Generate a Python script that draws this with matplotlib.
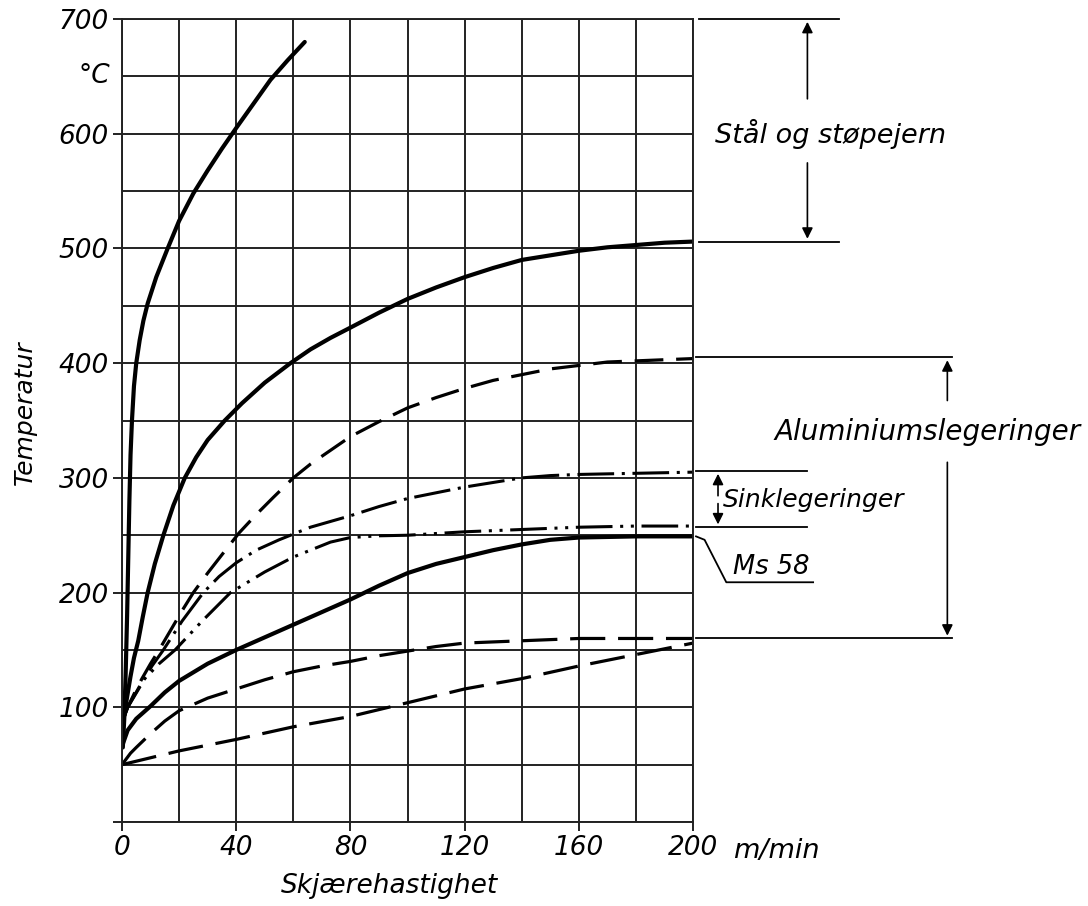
import numpy as np
import matplotlib
matplotlib.use("Agg")
import matplotlib.pyplot as plt

# cutting speed (m/min) vs. temperature (degC)
steel_x = [0.3, 0.8, 1.3, 1.8, 2.2, 2.6, 3.0, 3.5, 4.2, 5, 6.2, 7.5, 9, 12, 16, 20,
           25, 30, 35, 40, 46, 52, 58, 64]
steel_y = [65, 90, 130, 180, 230, 280, 320, 350, 380, 400, 420, 437, 452, 475, 500,
           524, 548, 568, 587, 605, 626, 647, 664, 680]

cast_x = [0.5, 1.2, 2, 3, 4.2, 5.7, 7.3, 9, 11.5, 14.5, 18, 22, 26, 30, 36, 42, 50,
          59, 66, 73, 80, 90, 100, 110, 120, 130, 140, 150, 160, 170, 180, 190, 200]
cast_y = [88, 100, 112, 127, 143, 158, 179, 200, 225, 250, 276, 300, 318, 333, 350,
          365, 383, 400, 412, 422, 431, 444, 456, 466, 475, 483, 490, 494, 498, 501,
          503, 505, 506]

alu_hi_x = [0.5, 2, 4.5, 7, 10, 13, 17, 21, 25, 30, 35, 41, 47, 53, 60, 66, 73, 80,
            90, 100, 110, 120, 130, 140, 150, 160, 170, 180, 190, 200]
alu_hi_y = [90, 100, 113, 125, 138, 150, 167, 184, 200, 217, 233, 252, 268, 283, 300,
            312, 324, 336, 349, 361, 370, 378, 385, 390, 395, 398, 401, 402, 403, 404]

zn_hi_x = [0.5, 2, 7, 10.5, 14.5, 21, 28.5, 34, 40, 47, 55, 66, 80, 90, 100, 110,
           120, 130, 140, 150, 160, 180, 200]
zn_hi_y = [90, 100, 122, 136, 150, 175, 200, 214, 226, 237, 246, 257, 267, 275, 282,
           287, 292, 296, 300, 302, 303, 304, 305]

zn_lo_x = [0.5, 2, 8, 13, 18.6, 28, 38, 50, 60, 66, 73, 80, 90, 100, 120, 140, 160,
           180, 200]
zn_lo_y = [90, 100, 125, 138, 150, 175, 200, 218, 231, 237, 244, 248, 249.5, 250,
           253, 255, 257, 258, 258]

ms58_x = [0.3, 2, 5, 10, 15, 20, 30, 40, 50, 60, 70, 80, 90, 100, 110, 120, 130, 140,
          150, 160, 180, 200]
ms58_y = [68, 80, 90, 101, 113, 123, 138, 150, 161, 172, 183, 194, 206, 217, 225, 231,
          237, 242, 246, 248, 249, 249]

alu_lo_x = [0, 1.5, 3, 5, 7.5, 10, 15, 20, 30, 40, 50, 60, 70, 80, 90, 100, 110, 120,
            140, 160, 180, 200]
alu_lo_y = [50, 55, 60, 65, 71, 77, 88, 97, 108, 116, 124, 131, 136, 140, 145, 149,
            153, 156, 158, 160, 160, 160]

alu_min_x = [0, 20, 40, 60, 80, 100, 120, 140, 160, 180, 200]
alu_min_y = [50, 62, 72, 83, 92, 104, 116, 125, 136, 146, 156]

x_ticks = [0, 40, 80, 120, 160, 200]
y_ticks = [0, 100, 200, 300, 400, 500, 600, 700]

# material ranges shown on the right: (label, low, high)
ranges = [("Stål og støpejern", 506, 700),
          ("Aluminiumslegeringer", 160, 405),
          ("Sinklegeringer", 257, 306)]

plt.rcParams['font.family'] = ['DejaVu Sans']
fig = plt.figure(figsize=(10.88, 9.06), dpi=100)
ax = fig.add_axes([0.1121, 0.0927, 0.5250, 0.8863])

ax.set_xlim(0, 200)
ax.set_ylim(0, 700)
ax.set_xticks(x_ticks)
ax.set_xticks(range(0, 201, 20), minor=True)
ax.set_yticks(y_ticks)
ax.set_yticks(range(0, 701, 50), minor=True)
ax.set_xticklabels([str(v) for v in x_ticks])
ax.set_yticklabels(['' if v == 0 else str(v) for v in y_ticks])
ax.grid(True, which='both', color='#222222', lw=1.4)
ax.set_axisbelow(True)
for s in ax.spines.values():
    s.set_linewidth(1.4)
    s.set_color('#222222')
ax.tick_params(which='major', length=6.5, width=1.4, color='#222222', pad=3,
               labelsize=19)
ax.tick_params(which='minor', length=0)
for lab in ax.get_xticklabels() + ax.get_yticklabels():
    lab.set_fontstyle('italic')

k = 'black'
ax.plot(steel_x, steel_y, color=k, lw=3.0, solid_capstyle='round')
ax.plot(cast_x, cast_y, color=k, lw=3.0)
l, = ax.plot(alu_hi_x, alu_hi_y, color=k, lw=2.3)
l.set_dashes((9, 4))
l, = ax.plot(zn_hi_x, zn_hi_y, color=k, lw=2.2)
l.set_dashes((12, 2.5, 1, 2.5))
l, = ax.plot(zn_lo_x, zn_lo_y, color=k, lw=2.2)
l.set_dashes((12, 2.5, 1, 2.5, 1, 2.5))
ax.plot(ms58_x, ms58_y, color=k, lw=3.0)
l, = ax.plot(alu_lo_x, alu_lo_y, color=k, lw=2.3)
l.set_dashes((11, 4))
l, = ax.plot(alu_min_x, alu_min_y, color=k, lw=2.3)
l.set_dashes((11, 4))

# range brackets on the right
ap = dict(arrowstyle='-|>', color=k, lw=1.2, mutation_scale=16)
txt = dict(fontstyle='italic', color=k)

lab, lo, hi = ranges[0]
for yv in (lo, hi):
    ax.plot([202, 251], [yv, yv], color=k, lw=1.3, clip_on=False)
ax.annotate('', xy=(240, hi), xytext=(240, 628), arrowprops=ap, annotation_clip=False)
ax.annotate('', xy=(240, lo), xytext=(240, 577), arrowprops=ap, annotation_clip=False)
ax.text(248, 600, lab, ha='center', va='center', fontsize=19.5, clip_on=False, **txt)

lab, lo, hi = ranges[1]
for yv in (lo, hi):
    ax.plot([201, 290.5], [yv, yv], color=k, lw=1.3, clip_on=False)
ax.annotate('', xy=(289, hi), xytext=(289, 365), arrowprops=ap, annotation_clip=False)
ax.annotate('', xy=(289, lo), xytext=(289, 316), arrowprops=ap, annotation_clip=False)
ax.text(282, 340, lab, ha='center', va='center', fontsize=20, clip_on=False, **txt)

lab, lo, hi = ranges[2]
for yv in (lo, hi):
    ax.plot([201, 240], [yv, yv], color=k, lw=1.3, clip_on=False)
ax.annotate('', xy=(208.7, hi), xytext=(208.7, 282), arrowprops=ap, annotation_clip=False)
ax.annotate('', xy=(208.7, lo), xytext=(208.7, 280), arrowprops=ap, annotation_clip=False)
ax.text(210.5, 281, lab, ha='left', va='center', fontsize=18, clip_on=False, **txt)

# Ms 58 leader
ax.plot([201, 204, 211.6, 242], [249, 246, 209, 209], color=k, lw=1.3, clip_on=False)
ax.text(214, 211, 'Ms 58', ha='left', va='bottom', fontsize=18.5, clip_on=False, **txt)

# axis texts
ax.text(-4, 650, '°C', ha='right', va='center', fontsize=19, **txt)
ax.text(214, -25, 'm/min', ha='left', va='center', fontsize=19.5, clip_on=False, **txt)
ax.text(93.7, -56, 'Skjærehastighet', ha='center', va='center', fontsize=19,
        clip_on=False, **txt)
fig.text(25 / 1088, 1 - 413 / 906, 'Temperatur', rotation=90, ha='center',
         va='center', fontsize=18, **txt)

fig.savefig('out.png', dpi=100)
